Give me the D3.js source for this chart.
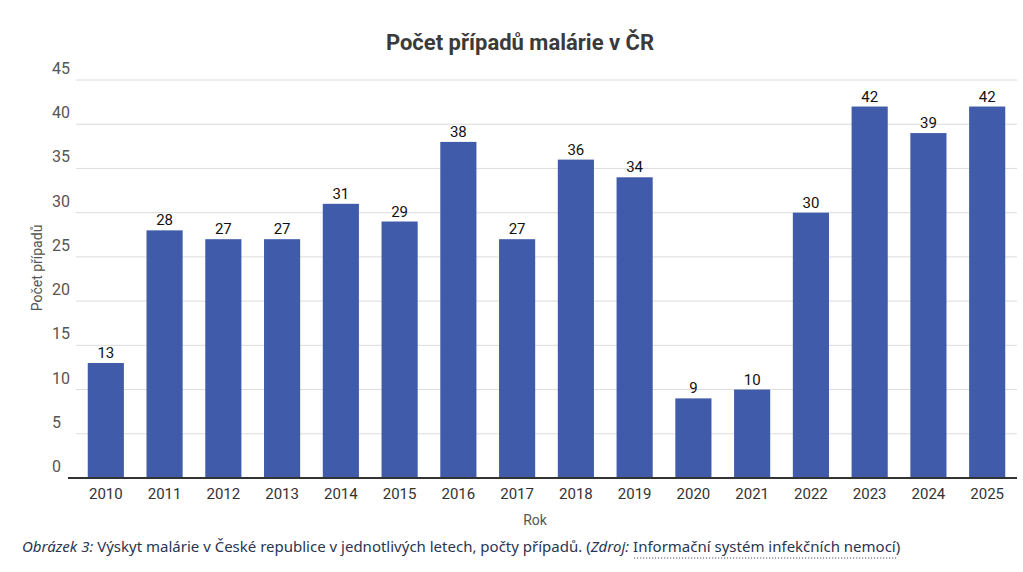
<!DOCTYPE html>
<html><head><meta charset="utf-8">
<script src="https://cdn.jsdelivr.net/npm/d3@7"></script>
<style>
body{margin:0;background:#fff;font-family:Roboto,"Noto Sans",sans-serif;}
</style></head><body>
<svg id="chart" width="1023" height="572"></svg>
<script>
const years = ['2010','2011','2012','2013','2014','2015','2016','2017','2018','2019','2020','2021','2022','2023','2024','2025'];
const cases = [13, 28, 27, 27, 31, 29, 38, 27, 36, 34, 9, 10, 30, 42, 39, 42];
const yTicks = [0, 5, 10, 15, 20, 25, 30, 35, 40, 45];

const svg = d3.select('#chart');
const plotLeft = 76, plotRight = 1017, plotTop = 80, plotBottom = 478;

const x = d3.scaleBand().domain(years).range([plotLeft, plotRight]).paddingInner(0.385).paddingOuter(0.2);
const y = d3.scaleLinear().domain([0, 45]).range([plotBottom, plotTop]);

svg.append('text').attr('x', 520).attr('y', 50).attr('text-anchor', 'middle')
    .attr('font-size', 22).attr('font-weight', 700).attr('fill', '#3a3a3a')
    .text('Počet případů malárie v ČR');

// grid
svg.append('g').selectAll('line').data(yTicks.filter(d => d > 0)).join('line')
    .attr('x1', plotLeft).attr('x2', plotRight)
    .attr('y1', d => y(d)).attr('y2', d => y(d))
    .attr('stroke', '#dcdcdc').attr('stroke-width', 1);

svg.append('g').selectAll('text').data(yTicks).join('text')
    .attr('x', 52).attr('y', d => y(d) - 6)
    .attr('font-size', 16).attr('fill', '#555')
    .text(d => d);

svg.append('g').selectAll('rect').data(cases).join('rect')
    .attr('x', (d, i) => x(years[i])).attr('width', x.bandwidth())
    .attr('y', d => y(d)).attr('height', d => y(0) - y(d))
    .attr('fill', '#3f5ba9');

svg.append('g').selectAll('text').data(cases).join('text')
    .attr('x', (d, i) => x(years[i]) + x.bandwidth() / 2).attr('y', d => y(d) - 5)
    .attr('text-anchor', 'middle').attr('font-size', 15).attr('fill', '#111')
    .text(d => d);

svg.append('line').attr('x1', plotLeft - 8).attr('x2', plotRight).attr('y1', plotBottom).attr('y2', plotBottom)
    .attr('stroke', '#333').attr('stroke-width', 2);

const xAxis = svg.append('g').attr('transform', `translate(0,${plotBottom})`)
    .call(d3.axisBottom(x).tickSize(0).tickPadding(10));
xAxis.select('.domain').remove();
xAxis.selectAll('text').attr('font-size', 15).attr('fill', '#333').attr('font-family', 'Roboto,sans-serif');

svg.append('text').attr('x', 535).attr('y', 525).attr('text-anchor', 'middle')
    .attr('font-size', 14).attr('fill', '#555').text('Rok');

svg.append('text').attr('transform', 'translate(42,268) rotate(-90)').attr('text-anchor', 'middle')
    .attr('font-size', 14).attr('fill', '#555').text('Počet případů');

const cap = svg.append('text').attr('x', 22).attr('y', 552).attr('font-size', 15)
    .attr('fill', '#2a3550').attr('font-family', '"Noto Sans",sans-serif');
cap.append('tspan').attr('font-style', 'italic').text('Obrázek 3:');
cap.append('tspan').text(' Výskyt malárie v České republice v jednotlivých letech, počty případů. (');
cap.append('tspan').attr('font-style', 'italic').text('Zdroj:');
cap.append('tspan').attr('id', 'lnk').text(' Informační systém infekčních nemocí');
cap.append('tspan').text(')');

const bb = document.getElementById('lnk').getBBox();
svg.append('line').attr('x1', bb.x + 5).attr('x2', bb.x + bb.width).attr('y1', 558).attr('y2', 558)
    .attr('stroke', '#2a3550').attr('stroke-dasharray', '1,2');
</script>
</body></html>
